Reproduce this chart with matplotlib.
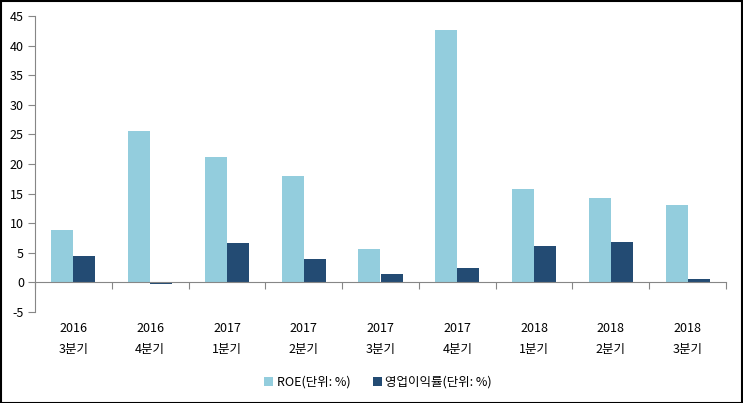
import matplotlib
matplotlib.use("Agg")
import matplotlib.pyplot as plt
import matplotlib.transforms as mtransforms
from matplotlib.patches import Rectangle
import numpy as np

plt.rcParams['font.family'] = ['Noto Sans CJK KR', 'DejaVu Sans']
plt.rcParams['axes.unicode_minus'] = False

years = ["2016", "2016", "2017", "2017", "2017", "2017", "2018", "2018", "2018"]
quarters = ["3분기", "4분기", "1분기", "2분기", "3분기", "4분기", "1분기", "2분기", "3분기"]
roe = [8.9, 25.6, 21.2, 17.9, 5.6, 42.6, 15.8, 14.2, 13.0]
op_margin = [4.5, -0.3, 6.7, 4.0, 1.5, 2.5, 6.2, 6.9, 0.5]
series_names = ["ROE(단위: %)", "영업이익률(단위: %)"]
yticks = [-5, 0, 5, 10, 15, 20, 25, 30, 35, 40, 45]

W, H = 743, 403
fig = plt.figure(figsize=(W / 100, H / 100), dpi=100)
ax = fig.add_axes([35 / W, (H - 312) / H, (726 - 35) / W, (312 - 16) / H])

x = np.arange(len(roe))
bw = 0.287
ax.bar(x - bw / 2, roe, bw, color="#93CDDD", label=series_names[0], zorder=2)
ax.bar(x + bw / 2, op_margin, bw, color="#234B73", label=series_names[1], zorder=2)

ax.set_xlim(-0.5, len(roe) - 0.5)
ax.set_ylim(-5, 45)
ax.set_yticks(yticks)
ax.tick_params(axis='y', direction='out', length=5, color='#868686', labelsize=9, pad=3)

for s in ['top', 'right']:
    ax.spines[s].set_visible(False)
ax.spines['left'].set_color('#868686')
ax.spines['bottom'].set_color('#868686')
ax.spines['bottom'].set_position(('data', 0))
ax.set_xticks(np.arange(-0.5, len(roe), 1.0))
ax.set_xticklabels([])
ax.tick_params(axis='x', direction='out', length=5, color='#868686')

trans = mtransforms.blended_transform_factory(ax.transData, fig.transFigure)
for i in range(len(roe)):
    ax.text(x[i], (H - 329) / H, years[i], transform=trans, ha='center', va='center', fontsize=9)
    ax.text(x[i], (H - 350) / H, quarters[i], transform=trans, ha='center', va='center', fontsize=9)

leg = fig.legend(loc='center', bbox_to_anchor=(378 / W, (H - 382) / H), ncol=2, frameon=False,
                 fontsize=9, handlelength=0.7, handleheight=0.7, handletextpad=0.3, columnspacing=1.8)

fig.patches.append(Rectangle((0.001, 0.001), 0.997, 0.996, transform=fig.transFigure,
                             fill=False, edgecolor='black', linewidth=1.5))

fig.savefig("out.png", dpi=100)
